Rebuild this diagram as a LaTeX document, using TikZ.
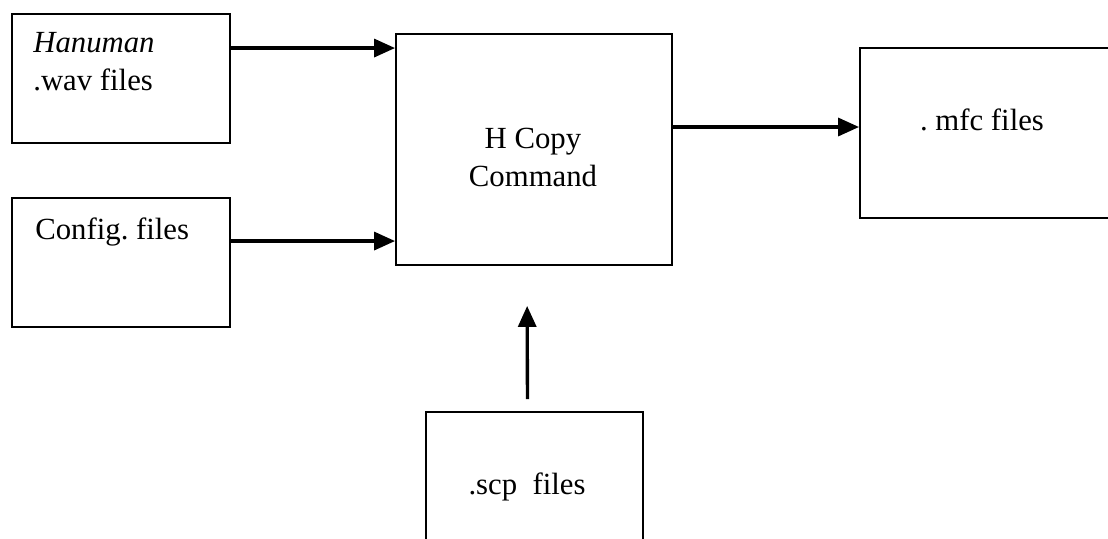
\documentclass[tikz,border=0pt]{standalone}
\usepackage{fontspec}
\setmainfont{Liberation Serif}
\usepackage{tikz}
\usetikzlibrary{arrows.meta}
\frenchspacing

\begin{document}
\begin{tikzpicture}[x=0.02cm, y=-0.02cm,
            box/.style={shape=rectangle, draw, line width=1.1pt, inner sep=0pt},
            lbl/.style={inner sep=0pt, font=\fontsize{17.5}{21.5}\selectfont},
            arr/.style={line width=1.9pt, -{Triangle[length=0.42cm,width=0.36cm]}}]
				\clip (0,0) rectangle (1108,538);

				% the boxes
				\node[box, minimum width=4.36cm, minimum height=2.58cm] (wav) at (121,78.5) {};
				\node[box, minimum width=4.36cm, minimum height=2.58cm] (cfg) at (121,262.5) {};
				\node[box, minimum width=5.52cm, minimum height=4.62cm] (hcopy) at (534,149.5) {};
				\node[box, minimum width=5.4cm, minimum height=3.4cm] (mfc) at (995,133) {};
				\node[box, minimum width=4.34cm, minimum height=3cm] (scp) at (534.5,487) {};

				% texts in the boxes
				\node[lbl, anchor=north west, align=left] (wavtxt) at (33,32) {\textit{Hanuman}\\.wav files};
				\node[lbl, anchor=north west] (cfgtxt) at (35,217) {Config. files};
				\node[lbl, anchor=north, align=center] (hcopytxt) at (533,128) {H Copy\\Command};
				\node[lbl, anchor=north] (mfctxt) at (982,108) {. mfc files};
				\node[lbl, anchor=north] (scptxt) at (527,472) {.scp~~files};

				% arrows
				\draw[arr] ([yshift=-0.7cm]wav.north east) -- ([yshift=-0.7cm]wav.north east -| hcopy.west);
				\draw[arr] ([yshift=-0.88cm]cfg.north east) -- ([yshift=-0.88cm]cfg.north east -| hcopy.west);
				\draw[arr] ([yshift=0.45cm]hcopy.east) -- ([yshift=0.45cm]hcopy.east -| mfc.west);
				\draw[arr, shorten <=0.24cm, shorten >=0.8cm] ([xshift=-0.14cm]scp.north) -- ([xshift=-0.14cm]hcopy.south);
 		\end{tikzpicture}
\end{document}
